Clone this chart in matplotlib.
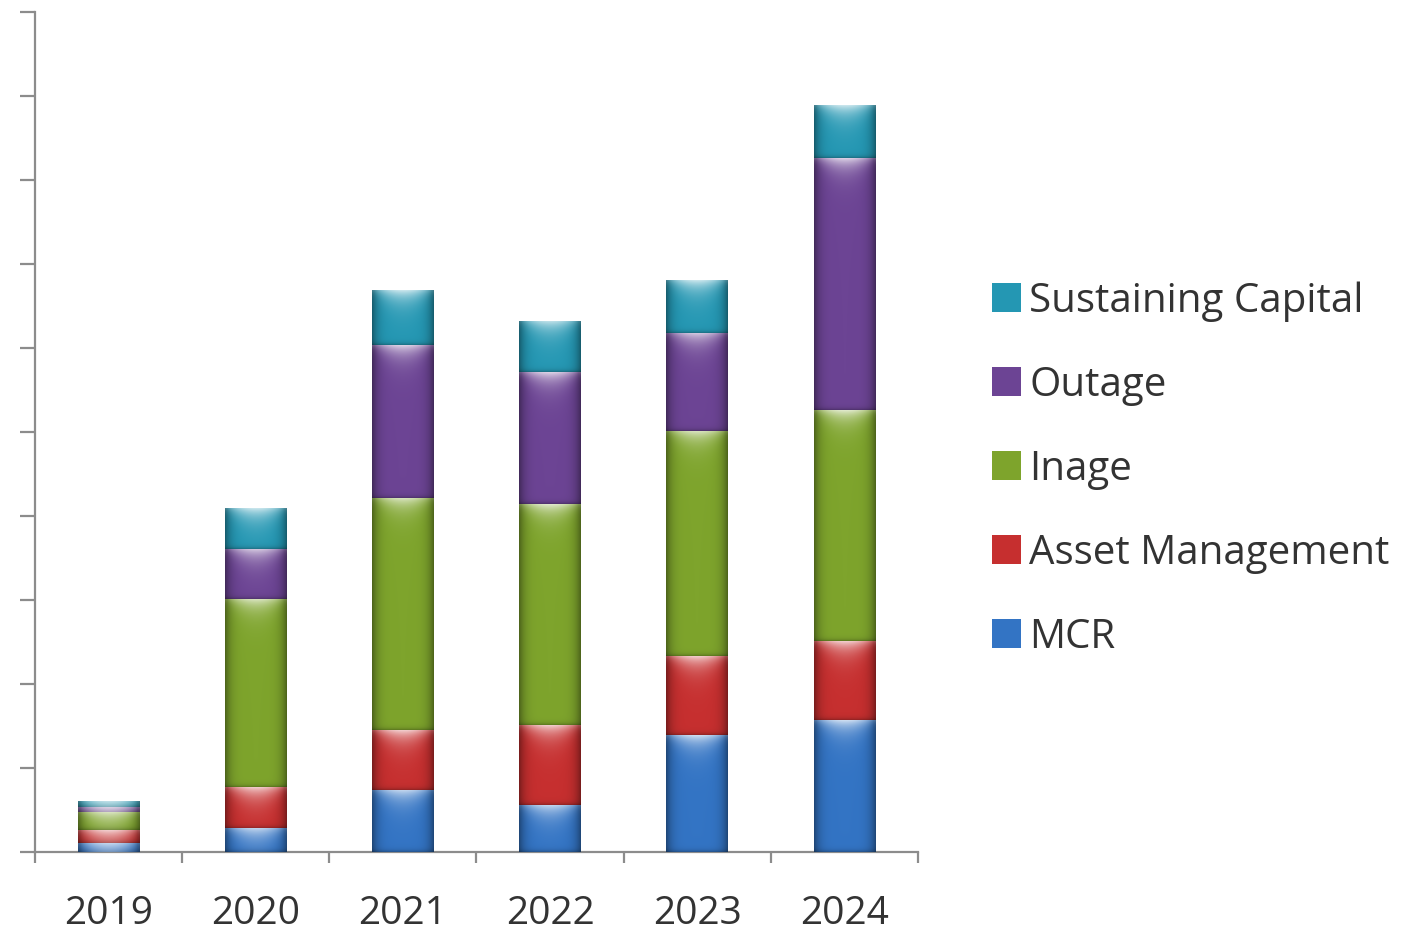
import numpy as np
import matplotlib
matplotlib.use("Agg")
import matplotlib.pyplot as plt
from matplotlib.patches import Patch
from matplotlib.colors import to_rgb

plt.rcParams["font.family"] = ["Open Sans", "DejaVu Sans"]

years = ["2019", "2020", "2021", "2022", "2023", "2024"]
series = ["MCR", "Asset Management", "Inage", "Outage", "Sustaining Capital"]
mcr = [0.11, 0.29, 0.74, 0.56, 1.39, 1.57]
asset_mgmt = [0.15, 0.48, 0.71, 0.95, 0.94, 0.94]
inage = [0.22, 2.24, 2.77, 2.63, 2.68, 2.75]
outage = [0.05, 0.60, 1.82, 1.57, 1.17, 3.00]
sustaining = [0.08, 0.48, 0.65, 0.61, 0.63, 0.63]
colors = ["#3374c4", "#c62f2f", "#7ea42c", "#6c4494", "#2497b3"]

values = [mcr, asset_mgmt, inage, outage, sustaining]

fig = plt.figure(figsize=(14.08, 9.31), dpi=100)
ax = fig.add_axes([35 / 1408, 79 / 931, 883 / 1408, 840 / 931])

x = np.arange(len(years))
width = 0.42
px_per_unit = 84.0


def shade(patch, color):
    # bevel look: darker sides, a light arch on top, dark seam at the bottom
    x0, y0 = patch.get_x(), patch.get_y()
    w, h = patch.get_width(), patch.get_height()
    if h <= 0:
        return
    rows = max(int(h * px_per_unit), 2)
    cols = 62
    u = np.linspace(0, 1, cols)[None, :]
    d = np.arange(rows)[:, None] + 0.5  # pixels from the top
    base = np.array(to_rgb(color))
    side = 1.0 - 0.38 * np.abs(2 * u - 1) ** 5
    arch = np.clip(1 - np.abs(2 * u - 1) ** 2 * 1.15, 0, 1)
    reach = 4.0 + 7.0 * arch
    top = 0.78 * np.exp(-d / reach) * (0.3 + 0.7 * arch)
    bottom = 0.3 * np.exp(-(rows - d) / 2.0)
    img = base[None, None, :] * side[..., None]
    img = img * (1 - bottom[..., None])
    img = img + (1 - img) * top[..., None]
    img = np.clip(img, 0, 1)
    im = ax.imshow(img, extent=(x0, x0 + w, y0, y0 + h), origin="upper",
                   aspect="auto", interpolation="bilinear", zorder=3)
    im.set_clip_path(patch)


bottoms = np.zeros(len(years))
for name, vals, col in zip(series, values, colors):
    bars = ax.bar(x, vals, width, bottom=bottoms, color=col, edgecolor="none",
                  zorder=2, label=name)
    for b in bars:
        shade(b, col)
    bottoms += np.array(vals)

ax.set_xlim(-0.5, len(years) - 0.5)
ax.set_ylim(0, 10)

ax.spines["top"].set_visible(False)
ax.spines["right"].set_visible(False)
for s in ("left", "bottom"):
    ax.spines[s].set_color("#8c8c8c")
    ax.spines[s].set_linewidth(1.6)

ax.set_yticks(np.arange(0, 11))
ax.set_yticklabels([])
ax.tick_params(axis="y", direction="out", length=11, width=1.6, color="#8c8c8c")

ax.set_xticks(np.arange(-0.5, len(years)), minor=False)
ax.set_xticklabels([])
ax.tick_params(axis="x", direction="out", length=8, width=1.6, color="#8c8c8c")
for i, yr in enumerate(years):
    ax.text(i, -0.74, yr, ha="center", va="center", fontsize=28,
            color="#333333", transform=ax.transData, clip_on=False)

handles = [Patch(facecolor=c, edgecolor="none") for c in colors][::-1]
leg = fig.legend(handles, series[::-1], loc="upper left",
                 bbox_to_anchor=(992 / 1408, 1 - 281 / 931),
                 frameon=False, fontsize=29, labelspacing=1.08,
                 handlelength=0.72, handleheight=0.72, handletextpad=0.2,
                 borderpad=0, borderaxespad=0)
for t in leg.get_texts():
    t.set_color("#333333")

fig.savefig("out.png", dpi=100, facecolor="white")
